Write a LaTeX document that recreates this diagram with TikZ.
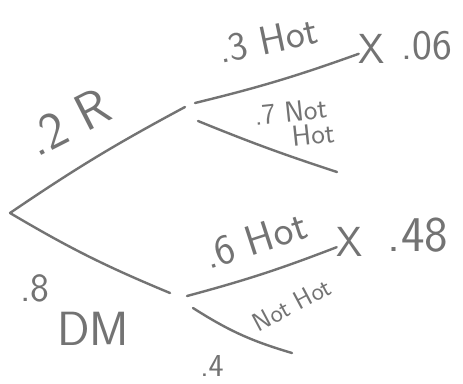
\documentclass[tikz,border=0pt]{standalone}
\usepackage{xcolor}
\usepackage{tikz}
\usetikzlibrary{positioning}
\definecolor{pencil}{RGB}{115,115,115}

\tikzset{
  branch/.style={draw=pencil, line width=2.4pt, line cap=round},
  lbl/.style={text=pencil, inner sep=0pt, font=\sffamily\fontsize{#1}{#1}\selectfont},
  crossmark/.style={text=pencil, inner sep=0pt, font=\sffamily\fontsize{42}{42}\selectfont}
}

\begin{document}
\begin{tikzpicture}[x=1pt, y=-1pt]
  \useasboundingbox[fill=white] (0,0) rectangle (463,383);

  % split points
  \coordinate (root) at (10,213);
  \coordinate (rend) at (185,107);
  \coordinate (dmend) at (170,293);
  \coordinate (rhot) at (195,103);
  \coordinate (rnot) at (198,121);
  \coordinate (rnotend) at (337,172);
  \coordinate (dmhot) at (187,296);
  \coordinate (dmnot) at (193,308);
  \coordinate (dmnotend) at (292,353);

  % crosses at the chosen outcomes
  \node[crossmark] (xr) at (372,49) {X};
  \node[crossmark] (xdm) at (350,242) {X};

  % first stage
  \draw[branch] (root) to[bend left=3] (rend);
  \draw[branch] (root) to[bend right=4] (dmend);

  % second stage
  \draw[branch] (rhot) to[bend right=3] (xr);
  \draw[branch] (rnot) to[bend right=2] (rnotend);
  \draw[branch] (dmhot) to[bend right=3] (xdm);
  \draw[branch] (dmnot) to[bend right=8] (dmnotend);

  % labels
  \node[lbl=52, rotate=27] (r) at (68,122) {.2 R};
  \node[lbl=40] (p8) at (35,288) {.8};
  \node[lbl=48] (dm) at (93,329) {DM};
  \node[lbl=40, rotate=12] (rh) at (268,40) {.3 Hot};
  \node[lbl=29, rotate=6, align=center] (rn) at (292,124) {.7 Not\\[-4pt]\hspace{40pt}Hot};
  \node[lbl=42] (p06) at (427,46) {.06};
  \node[lbl=42, rotate=18] (dh) at (255,240) {.6 Hot};
  \node[lbl=50] (p48) at (418,235) {.48};
  \node[lbl=26, rotate=28] (dn) at (292,305) {Not Hot};
  \node[lbl=32] (p4) at (212,366) {.4};
\end{tikzpicture}
\end{document}
